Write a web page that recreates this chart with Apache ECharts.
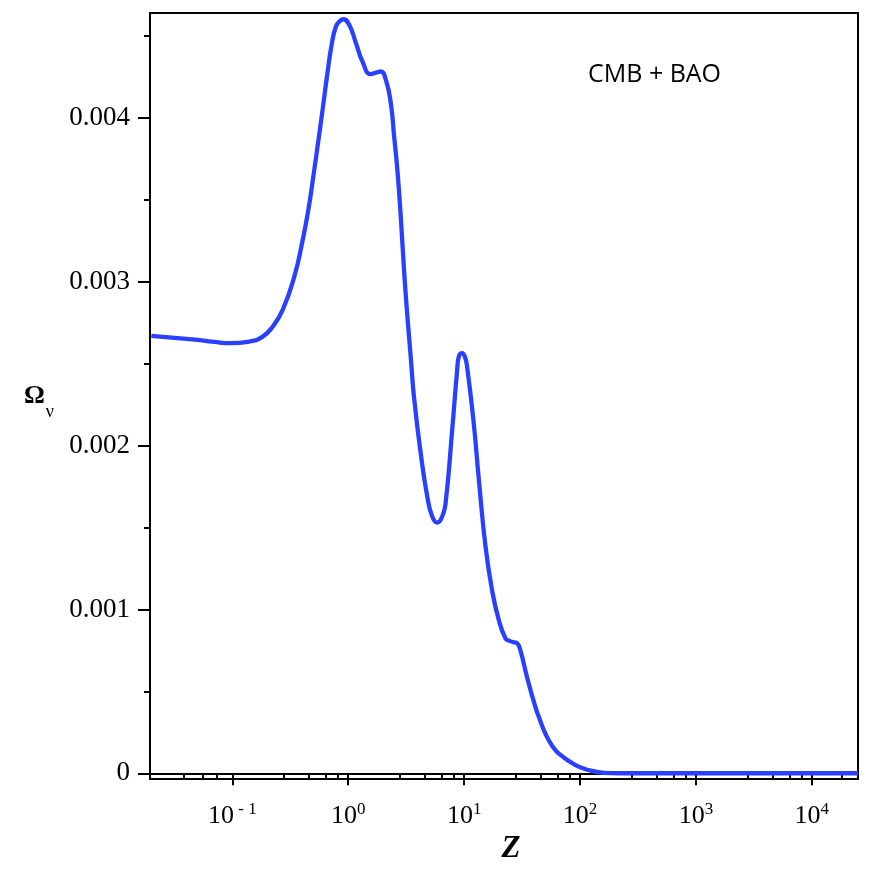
<!DOCTYPE html>
<html>
<head>
<meta charset="utf-8">
<script src="https://cdn.jsdelivr.net/npm/echarts@6/dist/echarts.min.js"></script>
<style>
  html, body { margin: 0; padding: 0; background: #fff; }
  #chart { width: 872px; height: 872px; }
</style>
</head>
<body>
<div id="chart"></div>
<script>
// redshift z and Omega_nu
const zValues = [
  0.02, 0.045, 0.07, 0.0948, 0.141, 0.183, 0.2235, 0.272, 0.343, 0.400,
  0.453, 0.500, 0.549, 0.601, 0.656, 0.724, 0.784, 0.85, 0.911, 1.02,
  1.165, 1.327, 1.567, 1.91, 2.11, 2.33, 2.49, 2.655, 2.84, 3.03,
  3.24, 3.46, 3.69, 4.22, 4.81, 5.31, 5.86, 6.47, 6.92, 7.89,
  8.71, 9.0, 9.61, 10.14, 10.6, 12.1, 13.4, 15.3, 17.4, 19.9,
  22.7, 24.6, 26.7, 28.6, 30.5, 34.8, 41.1, 45.5, 50.1, 57, 65.2, 90.7,
  118, 160, 220, 1000, 25000
]
const omegaNu = [
  0.002670, 0.002648, 0.002633, 0.002625, 0.002635, 0.002665, 0.002727, 0.002828, 0.003032, 0.003236,
  0.003439, 0.003642, 0.003846, 0.004049, 0.004253, 0.004457, 0.004558, 0.004592, 0.004602, 0.004568,
  0.004457, 0.004344, 0.004267, 0.004283, 0.004233, 0.004090, 0.003886, 0.003683, 0.003398, 0.003073,
  0.002788, 0.002543, 0.002299, 0.001954, 0.001689, 0.001567, 0.001530, 0.001567, 0.001648, 0.002096,
  0.002462, 0.002543, 0.002564, 0.002543, 0.002482, 0.002137, 0.001791, 0.001383, 0.001119, 0.000936,
  0.000824, 0.000808, 0.000800, 0.000794, 0.000753, 0.000590, 0.000407, 0.000318, 0.000244, 0.000172, 0.000122, 0.000051,
  0.000020, 0.000003, 0, 0, 0
]

const xMajorTicks = [0.1, 1, 10, 100, 1000, 10000]
const xMinorTicks = [
  0.038, 0.056, 0.074,
  0.28, 0.46, 0.64, 0.82,
  2.8, 4.6, 6.4, 8.2,
  28, 46, 64, 82,
  280, 460, 640, 820,
  2800, 4600, 6400, 8200,
  18000
]
const yMajorTicks = [0, 0.001, 0.002, 0.003, 0.004]
const yMinorTicks = [0.0005, 0.0015, 0.0025, 0.0035, 0.0045]

const serif = 'Liberation Serif'
let chart = echarts.init(document.getElementById('chart'))

let seriesData = zValues.map((z, i) => [z, omegaNu[i]])

const option = {
  backgroundColor: '#fff',
  animation: false,
  grid: {
    left: 150,
    right: 14,
    top: 13,
    bottom: 93,
    containLabel: false,
    show: true,
    borderColor: '#000',
    borderWidth: 2
  },
  xAxis: [
    {
      type: 'log',
      logBase: 10,
      min: 0.0195,
      max: 25000,
      position: 'bottom',
      name: 'Z',
      nameLocation: 'middle',
      nameGap: 50,
      nameTextStyle: {
        fontFamily: serif,
        fontSize: 31,
        fontWeight: 'bold',
        fontStyle: 'italic',
        color: '#000',
        padding: [0, 0, 0, 14]
      },
      axisLine: { show: true, lineStyle: { color: '#000', width: 2 } },
      axisTick: {
        show: true,
        inside: false,
        length: 12,
        lineStyle: { color: '#000', width: 2 },
        customValues: xMajorTicks
      },
      axisLabel: {
        margin: 22,
        customValues: xMajorTicks,
        formatter: function (value) {
          let p = Math.round(Math.log10(value))
          let sup = p < 0 ? ' - ' + (-p) : String(p)
          return '{b|10}{s|' + sup + '}'
        },
        rich: {
          b: { fontFamily: serif, fontSize: 26, color: '#000', lineHeight: 30 },
          s: { fontFamily: serif, fontSize: 17, color: '#000', verticalAlign: 'top', lineHeight: 18 }
        }
      },
      splitLine: { show: false }
    },
    {
      type: 'log',
      logBase: 10,
      min: 0.0195,
      max: 25000,
      position: 'bottom',
      axisLine: { show: false },
      axisTick: {
        show: true,
        inside: false,
        length: 6,
        lineStyle: { color: '#000', width: 2 },
        customValues: xMinorTicks
      },
      axisLabel: { show: false },
      splitLine: { show: false }
    }
  ],
  yAxis: [
    {
      type: 'value',
      min: -0.000035,
      max: 0.00464,
      position: 'left',
      name: '{o|Ω}{n|ν}',
      nameLocation: 'middle',
      nameRotate: 0,
      nameGap: 96,
      nameTextStyle: {
        rich: {
          o: { fontFamily: serif, fontSize: 26, fontWeight: 'bold', color: '#000', lineHeight: 30 },
          n: { fontFamily: serif, fontSize: 18, color: '#000', verticalAlign: 'bottom', lineHeight: 14, padding: [0, 0, -10, 1] }
        }
      },
      axisLine: { show: true, lineStyle: { color: '#000', width: 2 } },
      axisTick: {
        show: true,
        inside: false,
        length: 12,
        lineStyle: { color: '#000', width: 2 },
        customValues: yMajorTicks
      },
      axisLabel: {
        margin: 20,
        customValues: yMajorTicks,
        fontFamily: serif,
        fontSize: 27,
        color: '#000',
        formatter: function (v) {
          return v === 0 ? '0' : v.toFixed(3)
        }
      },
      splitLine: { show: false }
    },
    {
      type: 'value',
      min: -0.000035,
      max: 0.00464,
      position: 'left',
      axisLine: { show: false },
      axisTick: {
        show: true,
        inside: false,
        length: 6,
        lineStyle: { color: '#000', width: 2 },
        customValues: yMinorTicks
      },
      axisLabel: { show: false },
      splitLine: { show: false }
    }
  ],
  graphic: [
    {
      type: 'text',
      left: 588,
      top: 62,
      style: {
        text: 'CMB + BAO',
        fontFamily: 'Open Sans',
        fontSize: 25,
        fill: '#000'
      }
    }
  ],
  series: [
    {
      name: 'CMB + BAO',
      type: 'line',
      xAxisIndex: 0,
      yAxisIndex: 0,
      data: seriesData,
      smooth: 0.5,
      showSymbol: false,
      lineStyle: { color: '#2a40ff', width: 4.3 },
      clip: true
    }
  ]
}

chart.setOption(option)
</script>
</body>
</html>
